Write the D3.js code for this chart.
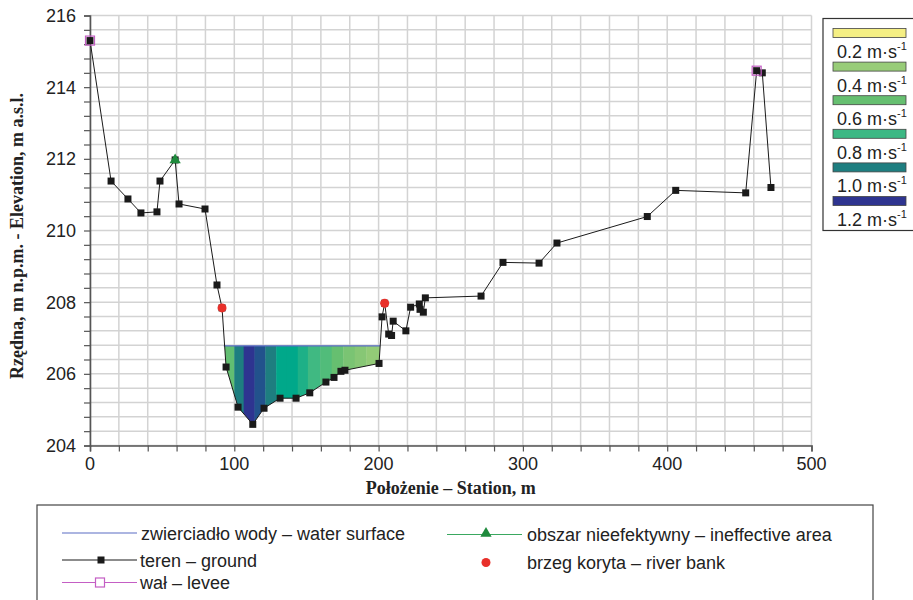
<!DOCTYPE html>
<html>
<head>
<meta charset="utf-8">
<script src="https://cdn.jsdelivr.net/npm/d3@7"></script>
<style>
  body { margin: 0; background: #fff; }
  svg { display: block; font-family: Arial, "Liberation Sans", sans-serif; }
</style>
</head>
<body>
<div id="chart"></div>
<script>
// Cross-section data (station m, elevation m)
const groundStation = [0, 14.6, 26.3, 35.3, 46.4, 48.5, 59, 61.7, 79.7, 88, 91.5, 94.3, 102.6, 112.8,
  120.6, 131.7, 142.8, 152.3, 163.5, 169.1, 173.9, 176.7, 200.3, 202.4, 204.2, 207, 209, 210.1,
  218.9, 222.2, 228.2, 228.7, 231, 232.4, 271, 286.2, 311.2, 323.6, 386.2, 405.9, 454.4, 462,
  465.9, 471.9];
const groundElevation = [215.3, 211.38, 210.88, 210.49, 210.52, 211.38, 211.97, 210.74, 210.6,
  208.48, 207.84, 206.19, 205.07, 204.59, 205.04, 205.32, 205.32, 205.47, 205.77, 205.9, 206.07,
  206.1, 206.29, 207.59, 207.97, 207.11, 207.07, 207.47, 207.2, 207.86, 207.95, 207.8, 207.72,
  208.12, 208.17, 209.11, 209.09, 209.65, 210.39, 211.12, 211.05, 214.46, 214.4, 211.2];

const leveeStation = [0, 462];
const leveeElevation = [215.3, 214.46];
const ineffStation = [59];
const ineffElevation = [211.97];
const bankStation = [91.5, 204.2];
const bankElevation = [207.84, 207.97];

const waterLevel = 206.78;
const waterExtent = [92.7, 201.1];

// velocity strips across the wetted section
const stripEdges = [92.7, 100, 106.5, 114, 121.5, 129, 136.5, 144, 151, 159.5, 167.5, 175.5, 183.5, 191.5, 201.1];
const stripVelocity = [0.62, 1.0, 1.2, 1.1, 1.0, 0.9, 0.9, 0.85, 0.78, 0.7, 0.6, 0.52, 0.47, 0.42];

const legendVelocity = [0.2, 0.4, 0.6, 0.8, 1.0, 1.2];
const xTicks = [0, 100, 200, 300, 400, 500];
const yTicks = [204, 206, 208, 210, 212, 214, 216];

const legendItems = [
  { key: 'water', label: 'zwierciadło wody – water surface' },
  { key: 'ground', label: 'teren – ground' },
  { key: 'levee', label: 'wał – levee' },
  { key: 'ineff', label: 'obszar nieefektywny – ineffective area' },
  { key: 'bank', label: 'brzeg koryta – river bank' }
];

function drawChart() {
  const W = 913, H = 600;
  const margin = { top: 15.5, left: 90 };
  const width = 721.5, height = 430;

  const svg = d3.select('#chart').append('svg').attr('width', W).attr('height', H);

  const x = d3.scaleLinear().domain([0, 500]).range([0, width]);
  const y = d3.scaleLinear().domain([204, 216]).range([height, 0]);

  const velColor = d3.scaleLinear()
    .domain([0.2, 0.4, 0.6, 0.8, 0.9, 1.0, 1.1, 1.2])
    .range(['#f5ef84', '#98cc78', '#66bf70', '#3cb884', '#00a88a', '#1e7e80', '#22528c', '#2e3490']);

  const g = svg.append('g').attr('transform', `translate(${margin.left},${margin.top})`);

  // grid
  const grid = g.append('g');
  grid.selectAll('line.h').data(d3.range(204, 216.01, 0.4)).join('line')
    .attr('x1', 0).attr('x2', width)
    .attr('y1', d => y(d)).attr('y2', d => y(d))
    .attr('stroke', '#d3d3d3').attr('stroke-width', 1.5);
  grid.selectAll('line.v').data(d3.range(0, 501, 20)).join('line')
    .attr('x1', d => x(d)).attr('x2', d => x(d))
    .attr('y1', 0).attr('y2', height)
    .attr('stroke', '#d3d3d3').attr('stroke-width', 1.5);

  const ground = groundStation.map((s, i) => [s, groundElevation[i]]);

  // clip: everything above the ground line
  const clipPts = [[0, 216]].concat(ground, [[500, 211.2], [500, 216]]);
  svg.append('defs').append('clipPath').attr('id', 'above-ground')
    .append('path')
    .attr('d', d3.line().x(d => x(d[0])).y(d => y(d[1]))(clipPts) + 'Z');

  const strips = stripVelocity.map((v, i) => ({ x0: stripEdges[i], x1: stripEdges[i + 1], v }));
  g.append('g').attr('clip-path', 'url(#above-ground)')
    .selectAll('rect').data(strips).join('rect')
    .attr('x', d => x(d.x0)).attr('width', d => x(d.x1) - x(d.x0) + 0.4)
    .attr('y', y(waterLevel)).attr('height', height - y(waterLevel))
    .attr('fill', d => velColor(d.v));

  // water surface
  g.append('line')
    .attr('x1', x(waterExtent[0])).attr('x2', x(waterExtent[1]))
    .attr('y1', y(waterLevel)).attr('y2', y(waterLevel))
    .attr('stroke', '#5a6cc4').attr('stroke-width', 1.3);

  // axes
  const yAxis = g.append('g')
    .call(d3.axisLeft(y).tickValues(d3.range(204, 216.01, 0.4)).tickSize(6).tickFormat(''));
  const xAxis = g.append('g').attr('transform', `translate(0,${height})`)
    .call(d3.axisBottom(x).tickValues(d3.range(0, 501, 20)).tickSize(6).tickFormat(''));
  [yAxis, xAxis].forEach(a => {
    a.select('.domain').attr('stroke', '#555').attr('stroke-width', 1.6);
    a.selectAll('.tick line').attr('stroke', '#555').attr('stroke-width', 1.2);
  });

  g.selectAll('text.ytick').data(yTicks).join('text')
    .attr('x', -14).attr('y', d => y(d) + 6.5)
    .attr('text-anchor', 'end').attr('font-size', '18px').attr('fill', '#222')
    .text(d => d);
  g.selectAll('text.xtick').data(xTicks).join('text')
    .attr('x', d => x(d)).attr('y', height + 24.5)
    .attr('text-anchor', 'middle').attr('font-size', '18px').attr('fill', '#222')
    .text(d => d);

  // axis titles
  svg.append('text')
    .attr('x', margin.left + width / 2).attr('y', 494)
    .attr('text-anchor', 'middle')
    .attr('font-family', '"Liberation Serif", "Times New Roman", serif')
    .attr('font-weight', 'bold').attr('font-size', '18px').attr('fill', '#222')
    .text('Położenie – Station, m');
  svg.append('text')
    .attr('transform', 'translate(23,236) rotate(-90)')
    .attr('text-anchor', 'middle')
    .attr('font-family', '"Liberation Serif", "Times New Roman", serif')
    .attr('font-weight', 'bold').attr('font-size', '18px').attr('fill', '#222')
    .text('Rzędna, m n.p.m. - Elevation, m a.s.l.');

  // ground line + markers
  g.append('path').datum(ground)
    .attr('fill', 'none').attr('stroke', '#1a1a1a').attr('stroke-width', 1)
    .attr('d', d3.line().x(d => x(d[0])).y(d => y(d[1])));
  g.selectAll('rect.gm').data(ground).join('rect')
    .attr('x', d => x(d[0]) - 3.5).attr('y', d => y(d[1]) - 3.5)
    .attr('width', 7).attr('height', 7).attr('fill', '#1a1a1a');

  // levee
  g.selectAll('rect.lv').data(leveeStation.map((s, i) => [s, leveeElevation[i]])).join('rect')
    .attr('x', d => x(d[0]) - 4.5).attr('y', d => y(d[1]) - 4.5)
    .attr('width', 9).attr('height', 9)
    .attr('fill', 'none').attr('stroke', '#c45ec4').attr('stroke-width', 1.2);

  // ineffective area
  const tri = d3.symbol().type(d3.symbolTriangle).size(55);
  g.selectAll('path.ia').data(ineffStation.map((s, i) => [s, ineffElevation[i]])).join('path')
    .attr('transform', d => `translate(${x(d[0])},${y(d[1])})`)
    .attr('d', tri).attr('fill', '#1e8a3c');

  // river banks
  g.selectAll('circle.bk').data(bankStation.map((s, i) => [s, bankElevation[i]])).join('circle')
    .attr('cx', d => x(d[0])).attr('cy', d => y(d[1])).attr('r', 4.5)
    .attr('fill', '#e8302a');

  // velocity legend
  const vl = svg.append('g');
  vl.append('rect').attr('x', 823).attr('y', 18.5).attr('width', 110).attr('height', 212)
    .attr('fill', '#fff').attr('stroke', '#333').attr('stroke-width', 1.2);
  const vItem = vl.selectAll('g').data(legendVelocity).join('g')
    .attr('transform', (d, i) => `translate(0,${i * 33.6})`);
  vItem.append('rect').attr('x', 833).attr('y', 28.5).attr('width', 73).attr('height', 9)
    .attr('fill', d => velColor(d)).attr('stroke', '#444').attr('stroke-width', 0.8);
  const vt = vItem.append('text').attr('x', 837).attr('y', 58)
    .attr('font-size', '18px').attr('fill', '#222');
  vt.append('tspan').text(d => d.toFixed(1) + ' m·s');
  vt.append('tspan').attr('dy', -8).attr('font-size', '11px').text('-1');

  // series legend
  const lg = svg.append('g');
  lg.append('rect').attr('x', 37).attr('y', 505).attr('width', 836).attr('height', 110)
    .attr('fill', '#fff').attr('stroke', '#444').attr('stroke-width', 1.2);
  const pos = {
    water: [62, 533], ground: [62, 560], levee: [62, 582.5],
    ineff: [447, 534.5], bank: [447, 562.5]
  };
  legendItems.forEach(it => {
    const [lx, ly] = pos[it.key];
    const item = lg.append('g').attr('transform', `translate(${lx},${ly})`);
    if (it.key !== 'bank') {
      const col = { water: '#5a6cc4', ground: '#1a1a1a', levee: '#c45ec4', ineff: '#3aa860' }[it.key];
      item.append('line').attr('x1', 0).attr('x2', 75).attr('stroke', col).attr('stroke-width', 1.1);
    }
    if (it.key === 'ground') {
      item.append('rect').attr('x', 35.5).attr('y', -3.5).attr('width', 7).attr('height', 7).attr('fill', '#1a1a1a');
    } else if (it.key === 'levee') {
      item.append('rect').attr('x', 33.5).attr('y', -4.5).attr('width', 9).attr('height', 9)
        .attr('fill', '#fff').attr('stroke', '#c45ec4').attr('stroke-width', 1.2);
    } else if (it.key === 'ineff') {
      item.append('path').attr('transform', 'translate(39,-1)').attr('d', tri).attr('fill', '#1e8a3c');
    } else if (it.key === 'bank') {
      item.append('circle').attr('cx', 39).attr('r', 4.5).attr('fill', '#e8302a');
    }
    item.append('text').attr('x', it.key === 'water' ? 79 : (lx > 400 ? 80 : 78)).attr('y', 6.5)
      .attr('font-size', '18px').attr('fill', '#222').text(it.label);
  });
}

drawChart();
</script>
</body>
</html>
